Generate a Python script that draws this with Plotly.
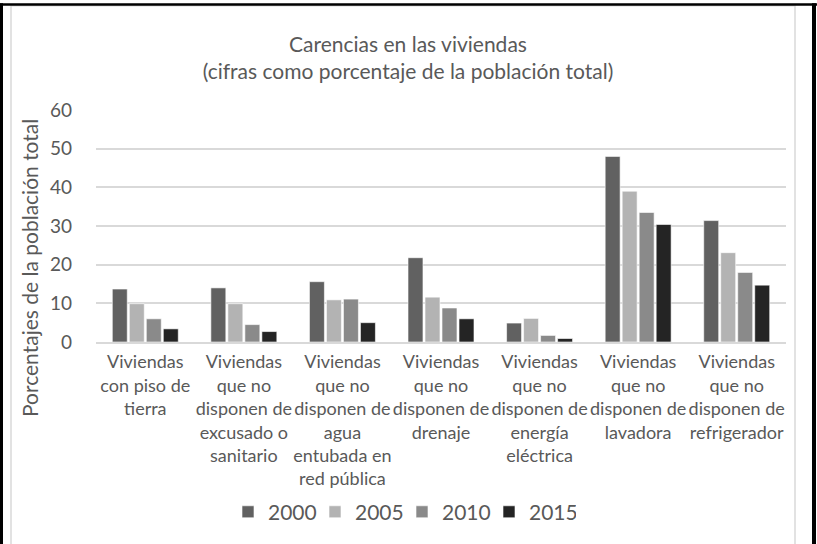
import plotly.graph_objects as go

categories = [
    "Viviendas<br>con piso de<br>tierra",
    "Viviendas<br>que no<br>disponen de<br>excusado o<br>sanitario",
    "Viviendas<br>que no<br>disponen de<br>agua<br>entubada en<br>red pública",
    "Viviendas<br>que no<br>disponen de<br>drenaje",
    "Viviendas<br>que no<br>disponen de<br>energía<br>eléctrica",
    "Viviendas<br>que no<br>disponen de<br>lavadora",
    "Viviendas<br>que no<br>disponen de<br>refrigerador",
]
years = ["2000", "2005", "2010", "2015"]
v2000 = [13.7, 14.0, 15.6, 21.8, 4.9, 48.0, 31.4]
v2005 = [9.9, 9.9, 10.9, 11.6, 6.1, 39.0, 23.1]
v2010 = [6.0, 4.5, 11.1, 8.8, 1.7, 33.5, 18.0]
v2015 = [3.4, 2.7, 5.0, 6.0, 0.9, 30.4, 14.7]
series = [v2000, v2005, v2010, v2015]
colors = ["#616161", "#b3b3b3", "#8a8a8a", "#242424"]
yticks = [0, 10, 20, 30, 40, 50, 60]

W, H = 817, 544
L, R, T, B = 96, 786, 110, 342.5

def px(x):
    return (x - L) / (R - L)

def py(y):
    return (B - y) / (B - T)

FONT = "Lato"
TXT = "#595959"

fig = go.Figure()
for yr, vals, c in zip(years, series, colors):
    fig.add_trace(go.Bar(x=list(range(len(categories))), y=vals, name=yr,
                         marker=dict(color=c, line=dict(color="white", width=0.6))))

shapes = [
    dict(type="rect", xref="paper", yref="paper", x0=px(11), x1=px(795), y0=py(560), y1=py(5.5),
         line=dict(color="#d9d9d9", width=1.5), fillcolor="rgba(0,0,0,0)", layer="below"),
    dict(type="line", xref="paper", yref="paper", x0=px(1.5), x1=px(1.5), y0=py(560), y1=py(3),
         line=dict(color="black", width=3)),
    dict(type="line", xref="paper", yref="paper", x0=px(0), x1=px(817), y0=py(4.3), y1=py(4.3),
         line=dict(color="black", width=2.5)),
    dict(type="line", xref="paper", yref="paper", x0=px(814), x1=px(814), y0=py(560), y1=py(3),
         line=dict(color="black", width=4)),
]

fig.update_layout(
    width=W, height=H,
    margin=dict(l=L, r=W - R, t=T, b=H - B, autoexpand=False),
    paper_bgcolor="white", plot_bgcolor="white",
    font=dict(family=FONT, color=TXT),
    title=dict(text="Carencias en las viviendas<br>(cifras como porcentaje de la población total)",
               x=408 / W, xref="container", xanchor="center", y=(H - 51.5) / H, yanchor="middle",
               font=dict(size=21, color=TXT, family=FONT)),
    barmode="group", bargap=0.31, bargroupgap=0.12,
    showlegend=True,
    legend=dict(orientation="h", x=px(228), xanchor="left", y=py(513), yanchor="middle",
                font=dict(size=21, color=TXT, family=FONT), itemwidth=30,
                entrywidth=42, entrywidthmode="pixels",
                bgcolor="rgba(0,0,0,0)"),
    shapes=shapes,
    annotations=[
        dict(text="Porcentajes de la población total", textangle=-90, xref="paper", yref="paper",
             x=px(30), y=py(117), xanchor="center", yanchor="top", showarrow=False,
             font=dict(size=21, color=TXT, family=FONT)),
    ],
)
fig.update_xaxes(tickvals=list(range(len(categories))), ticktext=categories,
                 range=[-0.5, len(categories) - 0.5], showgrid=False, showline=True,
                 linecolor="#d9d9d9", linewidth=1.5, ticks="", ticklabelstandoff=3,
                 tickfont=dict(size=18, color=TXT, family=FONT), tickangle=0)
fig.update_yaxes(range=[0, 60], tickvals=yticks, showgrid=True, gridcolor="#d9d9d9", gridwidth=1.5,
                 zeroline=False, showline=False, ticks="", ticklabelstandoff=23,
                 tickfont=dict(size=19, color=TXT, family=FONT))

fig.write_html("out.html", config={"displayModeBar": False},
               post_script="document.body.style.margin='0px';")
